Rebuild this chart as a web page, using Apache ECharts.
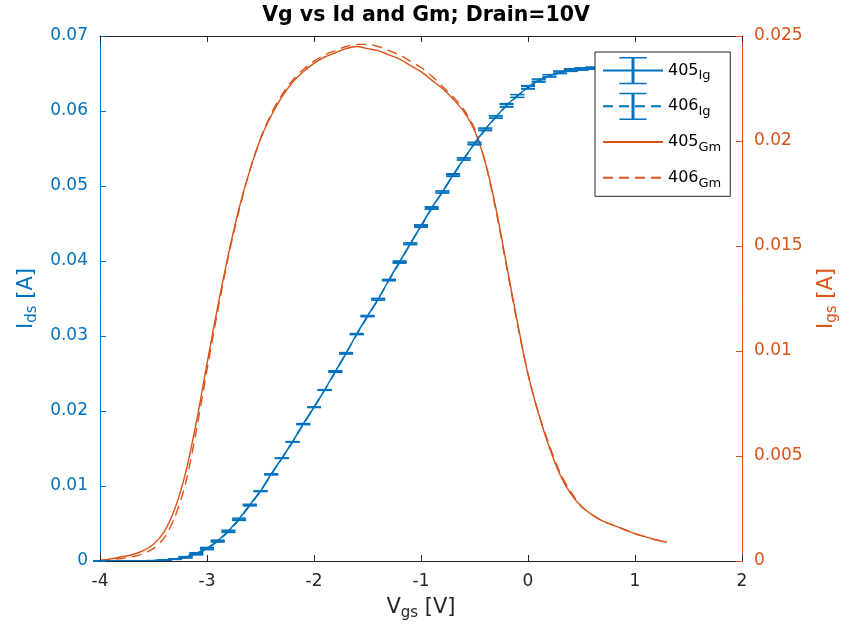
<!DOCTYPE html>
<html>
<head>
<meta charset="utf-8">
<script src="https://cdn.jsdelivr.net/npm/echarts@6/dist/echarts.min.js"></script>
<style>html,body{margin:0;padding:0;background:#fff}#c{width:850px;height:636px}</style>
</head>
<body>
<div id="c"></div>
<script>
// ---- Data ----
const vgs = [-4.0,-3.9,-3.8,-3.7,-3.6,-3.5,-3.4,-3.3,-3.2,-3.1,-3.0,-2.9,-2.8,-2.7,-2.6,-2.5,-2.4,-2.3,-2.2,-2.1,-2.0,-1.9,-1.8,-1.7,-1.6,-1.5,-1.4,-1.3,-1.2,-1.1,-1.0,-0.9,-0.8,-0.7,-0.6,-0.5,-0.4,-0.3,-0.2,-0.1,0.0,0.1,0.2,0.3,0.4,0.5,0.6,0.7,0.8,0.9,1.0,1.1,1.2,1.3];
const id405 = [0,0,0,0.00001,0.00003,0.00006,0.00013,0.00027,0.0005,0.0010,0.0017,0.0027,0.0040,0.0056,0.0075,0.0093,0.0116,0.0137,0.0159,0.0183,0.0205,0.0228,0.0253,0.0277,0.0303,0.0327,0.0349,0.0375,0.0399,0.0423,0.0447,0.0471,0.0492,0.0515,0.0536,0.0557,0.0576,0.0592,0.0608,0.0620,0.0632,0.0641,0.0647,0.0652,0.0655,0.0656,0.0657,0.0658,0.0659,0.0660,0.0660,0.0661,0.0661,0.0661];
const id406 = [0,0,0,0.00001,0.00002,0.00005,0.00011,0.00024,0.0005,0.0009,0.0016,0.0026,0.0039,0.0055,0.0074,0.0093,0.0115,0.0137,0.0159,0.0182,0.0205,0.0228,0.0252,0.0277,0.0302,0.0326,0.0349,0.0374,0.0398,0.0423,0.0446,0.0470,0.0492,0.0514,0.0536,0.0556,0.0575,0.0592,0.0607,0.0620,0.0631,0.0640,0.0647,0.0651,0.0654,0.0656,0.0657,0.0658,0.0659,0.0659,0.0660,0.0660,0.0661,0.0661];
const err405 = [0,0,0,0,0,0,0.00002,0.00005,0.0001,0.00012,0.00012,0.0001,0.00012,0.00012,0.00008,0.00004,0.00003,0.00003,0.00003,0.00004,0.00004,0.00006,0.00008,0.0001,0.00004,0.00005,0.00012,0.00006,0.00012,0.00012,0.00014,0.00014,0.00014,0.00015,0.00015,0.00015,0.00015,0.00016,0.0002,0.0002,0.0002,0.00018,0.00016,0.00015,0.00015,0.00015,0.00015,0.00015,0.00015,0.00015,0.00015,0.00015,0.00015,0.00015];
const err406 = [0,0,0,0,0,0,0.00002,0.00004,0.00008,0.0001,0.0001,0.00008,0.0001,0.0001,0.00006,0.00003,0.00002,0.00002,0.00002,0.00003,0.00003,0.00005,0.00006,0.00008,0.00003,0.00004,0.0001,0.00005,0.0001,0.0001,0.00012,0.00012,0.00012,0.00013,0.00013,0.00013,0.00013,0.00014,0.00018,0.00018,0.00018,0.00016,0.00014,0.00013,0.00013,0.00013,0.00013,0.00013,0.00013,0.00013,0.00013,0.00013,0.00013,0.00013];
const gm405 = [0.00003,0.0001,0.0002,0.0003,0.00048,0.0008,0.0014,0.0025,0.0042,0.0066,0.0094,0.0121,0.0146,0.0168,0.0186,0.0201,0.0212,0.0221,0.0228,0.0233,0.0237,0.0240,0.0242,0.0244,0.0245,0.0244,0.0243,0.0241,0.0239,0.0236,0.0233,0.0229,0.0225,0.0220,0.0214,0.0205,0.0190,0.0168,0.0141,0.0114,0.0089,0.0070,0.0054,0.0041,0.0032,0.0026,0.0022,0.0019,0.0017,0.0015,0.0013,0.00115,0.0010,0.0009];
const gm406 = [0.00002,0.00006,0.00012,0.0002,0.00034,0.0006,0.0011,0.0021,0.0037,0.0062,0.0091,0.0119,0.0145,0.0167,0.0186,0.0201,0.0213,0.0222,0.0229,0.0234,0.0238,0.0241,0.0243,0.0245,0.0246,0.0246,0.0245,0.0243,0.0241,0.0238,0.0235,0.0231,0.0226,0.0221,0.0215,0.0206,0.0190,0.0167,0.0140,0.0113,0.0089,0.0070,0.0055,0.0042,0.0033,0.0026,0.0022,0.0019,0.0017,0.0015,0.0013,0.00115,0.0010,0.0009];
const xTicks = {min: -4, max: 2, interval: 1};
const yLeftTicks = {min: 0, max: 0.07, interval: 0.01};
const yRightTicks = {min: 0, max: 0.025, interval: 0.005};

// ---- Styles ----
const BLUE = '#0072BD', ORANGE = '#D95319', DARK = '#262626';
const FONT = '"DejaVu Sans", Verdana, sans-serif';
const IBEAM = 'path://M6,0H18V1.3H12.65V22.7H18V24H6V22.7H11.35V1.3H6Z';
const DASH = [10, 6];

const pairs = (ys) => vgs.map((x, i) => [x, ys[i]]);
const errData = (ys, es) => vgs.map((x, i) => [x, ys[i] - es[i], ys[i] + es[i]]);

function errorBarRender(params, api) {
  const x = api.value(0);
  const p1 = api.coord([x, api.value(1)]);
  const p2 = api.coord([x, api.value(2)]);
  const hw = 7;
  const st = {stroke: BLUE, lineWidth: 1.3};
  return {type: 'group', children: [
    {type: 'line', shape: {x1: p1[0], y1: p1[1], x2: p2[0], y2: p2[1]}, style: st},
    {type: 'line', shape: {x1: p1[0] - hw, y1: p1[1], x2: p1[0] + hw, y2: p1[1]}, style: st},
    {type: 'line', shape: {x1: p2[0] - hw, y1: p2[1], x2: p2[0] + hw, y2: p2[1]}, style: st}
  ]};
}

const chart = echarts.init(document.getElementById('c'), null, {renderer: 'canvas'});
const subRich = (fs) => ({s: {fontSize: fs, fontFamily: FONT, verticalAlign: 'bottom', lineHeight: fs}});

chart.setOption({
  animation: false,
  backgroundColor: '#fff',
  textStyle: {fontFamily: FONT},
  title: {
    text: 'Vg vs Id and Gm; Drain=10V',
    left: 421, top: 0, textAlign: 'center',
    textStyle: {fontSize: 20.5, fontWeight: 'bold', color: '#000', fontFamily: FONT}
  },
  grid: {left: 100, right: 108, top: 36, bottom: 75, containLabel: false},
  legend: {
    orient: 'vertical', left: 595, top: 52,
    padding: [5, 9, 5, 7],
    itemWidth: 60, itemHeight: 34, itemGap: 8.5,
    backgroundColor: '#fff', borderColor: DARK, borderWidth: 1, borderRadius: 0,
    formatter: (name) => { const p = name.split('_'); return p[0] + '{s|' + p[1] + '}'; },
    textStyle: {fontSize: 16, color: '#000', fontFamily: FONT, lineHeight: 24, rich: subRich(13)},
    data: [
      {name: '405_Ig', symbolKeepAspect: true},
      {name: '406_Ig', symbolKeepAspect: true},
      {name: '405_Gm', itemStyle: {opacity: 0}},
      {name: '406_Gm', itemStyle: {opacity: 0}}
    ]
  },
  xAxis: [{
    type: 'value', min: xTicks.min, max: xTicks.max, interval: xTicks.interval,
    position: 'bottom', z: 5,
    axisLine: {show: true, lineStyle: {color: DARK, width: 1}},
    axisTick: {show: true, inside: true, length: 6, lineStyle: {color: DARK}},
    axisLabel: {color: DARK, fontSize: 17, margin: 12, fontFamily: FONT},
    splitLine: {show: false},
    name: 'V{s|gs} [V]', nameLocation: 'middle', nameGap: 31,
    nameTextStyle: {fontSize: 21, color: DARK, fontFamily: FONT, lineHeight: 26, rich: subRich(15)}
  }, {
    type: 'value', min: xTicks.min, max: xTicks.max, interval: xTicks.interval,
    position: 'top', z: 5,
    axisLine: {show: true, onZero: false, lineStyle: {color: DARK, width: 1}},
    axisTick: {show: true, inside: true, length: 6, lineStyle: {color: DARK}},
    axisLabel: {show: false},
    splitLine: {show: false}
  }],
  yAxis: [{
    type: 'value', min: yLeftTicks.min, max: yLeftTicks.max, interval: yLeftTicks.interval,
    position: 'left', z: 5,
    axisLine: {show: true, onZero: false, lineStyle: {color: BLUE, width: 1}},
    axisTick: {show: true, inside: true, length: 6, lineStyle: {color: BLUE}},
    axisLabel: {color: BLUE, fontSize: 17, margin: 12, fontFamily: FONT},
    splitLine: {show: false},
    name: 'I{s|ds} [A]', nameLocation: 'middle', nameRotate: 90, nameGap: 56,
    nameTextStyle: {fontSize: 21, color: BLUE, fontFamily: FONT, lineHeight: 26, rich: subRich(15)}
  }, {
    type: 'value', min: yRightTicks.min, max: yRightTicks.max, interval: yRightTicks.interval,
    position: 'right', z: 5,
    axisLine: {show: true, onZero: false, lineStyle: {color: ORANGE, width: 1}},
    axisTick: {show: true, inside: true, length: 6, lineStyle: {color: ORANGE}},
    axisLabel: {color: ORANGE, fontSize: 17, margin: 12, fontFamily: FONT},
    splitLine: {show: false},
    name: 'I{s|gs} [A]', nameLocation: 'middle', nameRotate: 90, nameGap: 64,
    nameTextStyle: {fontSize: 21, color: ORANGE, fontFamily: FONT, lineHeight: 26, rich: subRich(15)}
  }],
  series: [
    {name: '405_Gm', type: 'line', yAxisIndex: 1, data: pairs(gm405), showSymbol: false, symbol: 'circle',
     smooth: 0.3, lineStyle: {color: ORANGE, width: 1.4}, itemStyle: {color: ORANGE}, z: 2},
    {name: '406_Gm', type: 'line', yAxisIndex: 1, data: pairs(gm406), showSymbol: false, symbol: 'circle',
     smooth: 0.3, lineStyle: {color: ORANGE, width: 1.4, type: DASH}, itemStyle: {color: ORANGE}, z: 2},
    {name: '405_Ig', type: 'line', yAxisIndex: 0, data: pairs(id405), showSymbol: false, symbol: IBEAM,
     lineStyle: {color: BLUE, width: 1.5}, itemStyle: {color: BLUE}, z: 3},
    {name: '406_Ig', type: 'line', yAxisIndex: 0, data: pairs(id406), showSymbol: false, symbol: IBEAM,
     lineStyle: {color: BLUE, width: 1.5, type: DASH}, itemStyle: {color: BLUE}, z: 3},
    {name: 'err405', type: 'custom', yAxisIndex: 0, data: errData(id405, err405), renderItem: errorBarRender,
     encode: {x: 0, y: [1, 2]}, z: 3},
    {name: 'err406', type: 'custom', yAxisIndex: 0, data: errData(id406, err406), renderItem: errorBarRender,
     encode: {x: 0, y: [1, 2]}, z: 3}
  ]
});
</script>
</body>
</html>
